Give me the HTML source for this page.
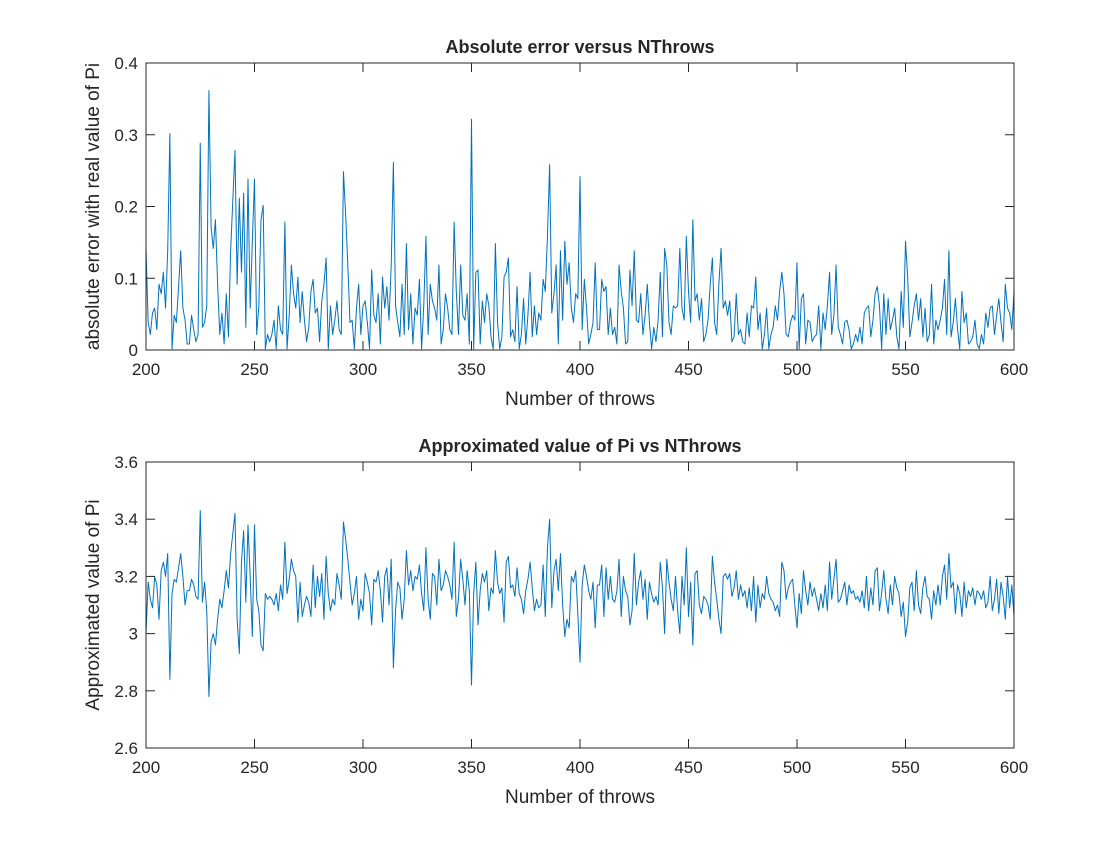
<!DOCTYPE html>
<html><head><meta charset="utf-8"><style>
body{margin:0;background:#fff;}
svg text{font-family:"Liberation Sans",sans-serif;fill:#262626;}
</style></head><body>
<svg id="fig" width="1120" height="840" xmlns="http://www.w3.org/2000/svg"></svg>
<script>
const throws0 = 200;
const approxValues = [
3.00,3.18,3.12,3.09,3.20,3.17,3.05,3.22,3.25,3.20,3.28,2.84,3.14,3.19,3.18,3.23,3.28,3.20,3.10,3.15,
3.15,3.19,3.17,3.13,3.12,3.43,3.11,3.18,3.08,2.78,2.97,3.00,2.96,3.05,3.12,3.09,3.15,3.22,3.16,3.28,
3.35,3.42,3.05,2.93,3.25,3.36,3.11,3.38,3.20,2.99,3.38,3.12,3.08,2.96,2.94,3.14,3.12,3.13,3.12,3.10,
3.14,3.08,3.17,3.12,3.32,3.14,3.19,3.26,3.22,3.20,3.04,3.18,3.06,3.10,3.13,3.11,3.06,3.24,3.09,3.20,
3.13,3.21,3.05,3.27,3.14,3.08,3.12,3.10,3.21,3.17,3.12,3.39,3.33,3.26,3.18,3.10,3.14,3.20,3.05,3.12,
3.08,3.21,3.18,3.14,3.03,3.19,3.18,3.22,3.15,3.04,3.20,3.23,3.10,3.26,2.88,3.08,3.18,3.16,3.05,3.12,
3.29,3.17,3.22,3.15,3.20,3.19,3.24,3.14,3.08,3.30,3.12,3.05,3.21,3.20,3.10,3.26,3.15,3.17,3.22,3.20,
3.17,3.12,3.32,3.06,3.12,3.26,3.19,3.10,3.22,3.15,2.82,3.14,3.25,3.03,3.15,3.21,3.18,3.22,3.08,3.16,
3.14,3.29,3.18,3.14,3.16,3.04,3.25,3.27,3.16,3.17,3.13,3.23,3.14,3.12,3.07,3.15,3.19,3.25,3.16,3.08,
3.12,3.09,3.10,3.24,3.06,3.30,3.40,3.09,3.22,3.26,3.15,3.28,3.10,2.99,3.05,3.02,3.20,3.18,3.22,3.07,
2.90,3.17,3.24,3.20,3.15,3.12,3.18,3.02,3.17,3.17,3.24,3.06,3.23,3.12,3.20,3.12,3.11,3.15,3.26,3.06,
3.20,3.15,3.13,3.03,3.08,3.28,3.10,3.18,3.22,3.12,3.19,3.05,3.18,3.14,3.11,3.13,3.10,3.25,3.16,3.00,
3.26,3.18,3.12,3.08,3.20,3.08,3.00,3.20,3.10,3.30,3.06,3.18,2.96,3.21,3.22,3.10,3.07,3.13,3.12,3.10,
3.05,3.27,3.18,3.12,3.05,3.00,3.20,3.21,3.19,3.21,3.13,3.16,3.22,3.12,3.17,3.13,3.15,3.09,3.16,3.08,
3.20,3.04,3.17,3.09,3.14,3.12,3.20,3.14,3.12,3.11,3.08,3.10,3.06,3.25,3.22,3.12,3.16,3.18,3.19,3.10,
3.02,3.14,3.07,3.22,3.15,3.10,3.18,3.13,3.16,3.12,3.08,3.14,3.09,3.17,3.08,3.25,3.12,3.19,3.26,3.11,
3.12,3.15,3.18,3.10,3.17,3.14,3.15,3.12,3.13,3.11,3.15,3.09,3.20,3.08,3.16,3.10,3.22,3.23,3.08,3.14,
3.22,3.12,3.07,3.17,3.10,3.20,3.16,3.14,3.06,3.11,2.99,3.04,3.16,3.18,3.08,3.22,3.10,3.07,3.16,3.20,
3.13,3.12,3.05,3.15,3.10,3.17,3.10,3.20,3.24,3.12,3.28,3.16,3.18,3.07,3.17,3.14,3.06,3.18,3.09,3.15,
3.13,3.16,3.10,3.15,3.14,3.12,3.15,3.09,3.11,3.20,3.08,3.12,3.19,3.07,3.18,3.13,3.05,3.20,3.09,3.17,3.06
];
const errorValues = approxValues.map(v => Math.abs(v - Math.PI));
const xTicks = [200,250,300,350,400,450,500,550,600];
const yTicksTop = [0,0.1,0.2,0.3,0.4];
const yTickLabelsTop = ["0","0.1","0.2","0.3","0.4"];
const yTicksBot = [2.6,2.8,3,3.2,3.4,3.6];
const yTickLabelsBot = ["2.6","2.8","3","3.2","3.4","3.6"];

const NS = "http://www.w3.org/2000/svg";
const svg = document.getElementById('fig');
function mk(tag, attrs, parent){const e=document.createElementNS(NS,tag);for(const k in attrs)e.setAttribute(k,attrs[k]);(parent||svg).appendChild(e);return e;}

function drawAxes(cfg){
  const g = mk('g',{});
  
  
  const L=146,R=1014,T=cfg.top,B=cfg.bottom;
  const xs = x => L + (x-200)/(600-200)*(R-L);
  const ys = y => B - (y-cfg.ymin)/(cfg.ymax-cfg.ymin)*(B-T);
  let d = '';
  cfg.values.forEach((v,i)=>{ d += (i?'L':'M') + xs(throws0+i).toFixed(2) + ',' + ys(v).toFixed(2); });
  const line = mk('path',{d:d,fill:'none',stroke:'#0072BD','stroke-width':1,'stroke-linejoin':'round'},g);
  
  
  const frame = mk('rect',{x:L,y:T,width:R-L,height:B-T,fill:'none',stroke:'#262626','stroke-width':1},g);
  
  
  xTicks.forEach(t=>{
    const x = xs(t);
    mk('line',{x1:x,x2:x,y1:B,y2:B-9,stroke:'#262626'},g);
    mk('line',{x1:x,x2:x,y1:T,y2:T+9,stroke:'#262626'},g);
    const tx = mk('text',{x:x,y:B+25,'text-anchor':'middle','font-size':17},g);
    tx.textContent = t;
    
    
  });
  cfg.yTicks.forEach((t,i)=>{
    const y = ys(t);
    mk('line',{x1:L,x2:L+9,y1:y,y2:y,stroke:'#262626'},g);
    mk('line',{x1:R,x2:R-9,y1:y,y2:y,stroke:'#262626'},g);
    const tx = mk('text',{x:L-8,y:y+6,'text-anchor':'end','font-size':17},g);
    tx.textContent = cfg.yLabels[i];
    
    
  });
  const title = mk('text',{x:(L+R)/2,y:T-10,'text-anchor':'middle','font-size':18,'font-weight':'bold'},g);
  title.textContent = cfg.title;
  
  
  const xl = mk('text',{x:(L+R)/2,y:B+55,'text-anchor':'middle','font-size':19},g);
  xl.textContent = 'Number of throws';
  
  
  const cy=(T+B)/2;
  const yl = mk('text',{x:99,y:cy,'text-anchor':'middle','font-size':19,transform:'rotate(-90 99 '+cy+')'},g);
  yl.textContent = cfg.ylabel;
  
  
}
drawAxes({name:'error-chart',top:63,bottom:350,ymin:0,ymax:0.4,values:errorValues,yTicks:yTicksTop,yLabels:yTickLabelsTop,
  title:'Absolute error versus NThrows',ylabel:'absolute error with real value of Pi'});
drawAxes({name:'pi-chart',top:462,bottom:748,ymin:2.6,ymax:3.6,values:approxValues,yTicks:yTicksBot,yLabels:yTickLabelsBot,
  title:'Approximated value of Pi vs NThrows',ylabel:'Approximated value of Pi'});
</script>
</body></html>
